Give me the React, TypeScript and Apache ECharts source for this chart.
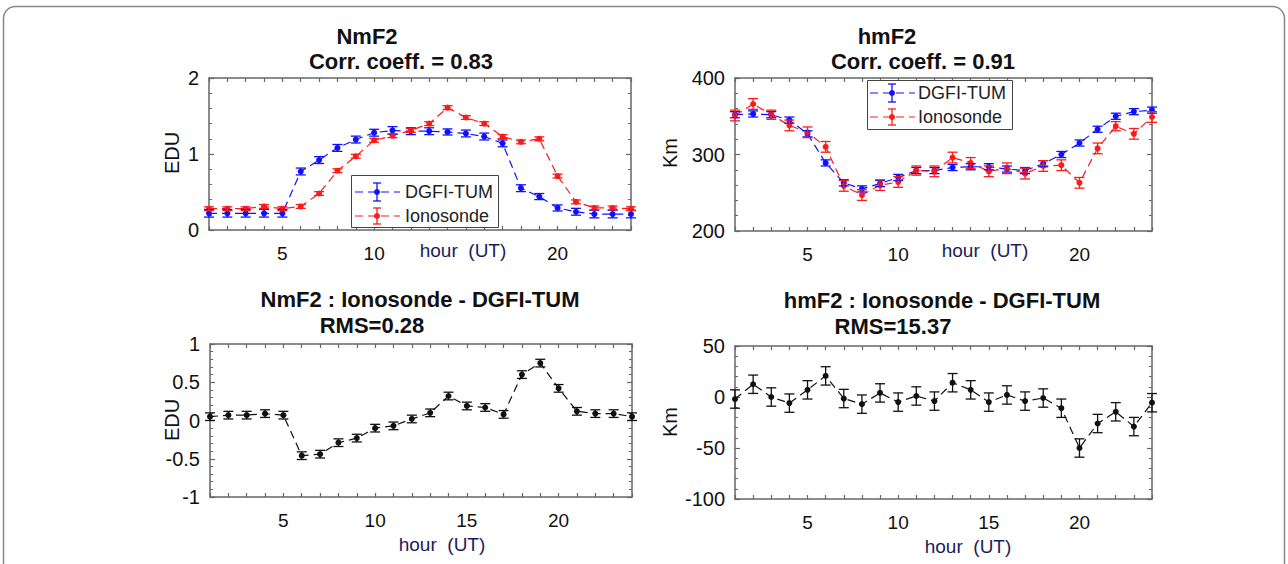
import React, { useEffect, useRef } from "react";
import * as echarts from "echarts";

const hours = [1, 2, 3, 4, 5, 6, 7, 8, 9, 10, 11, 12, 13, 14, 15, 16, 17, 18, 19, 20, 21, 22, 23, 24];

const nmDgfi = [0.22, 0.22, 0.22, 0.22, 0.22, 0.77, 0.92, 1.08, 1.19, 1.28, 1.31, 1.3, 1.3, 1.29, 1.27, 1.23, 1.14, 0.55, 0.44, 0.29, 0.24, 0.21, 0.21, 0.21];
const nmDgfiErr = [0.05, 0.05, 0.05, 0.05, 0.05, 0.045, 0.045, 0.045, 0.045, 0.045, 0.05, 0.045, 0.045, 0.04, 0.045, 0.045, 0.045, 0.045, 0.04, 0.04, 0.045, 0.05, 0.05, 0.05];
const nmIono = [0.28, 0.28, 0.28, 0.31, 0.28, 0.31, 0.48, 0.78, 0.97, 1.18, 1.24, 1.31, 1.4, 1.61, 1.48, 1.4, 1.23, 1.16, 1.2, 0.71, 0.37, 0.29, 0.29, 0.28];
const nmIonoErr = [0.025, 0.025, 0.025, 0.025, 0.025, 0.025, 0.025, 0.025, 0.025, 0.025, 0.025, 0.025, 0.025, 0.025, 0.025, 0.025, 0.025, 0.025, 0.025, 0.025, 0.025, 0.025, 0.025, 0.025];

const hmDgfi = [352, 353, 352, 345, 327, 289, 263, 255, 262, 270, 279, 279, 283, 284, 284, 281, 279, 288, 300, 315, 333, 350, 356, 358];
const hmDgfiErr = [4, 4, 4, 4, 4, 4, 4, 4, 4, 4, 4, 4, 4, 4, 4, 4, 4, 4, 4, 4, 4, 4, 4, 4];
const hmIono = [351, 366, 352, 338, 329, 310, 259, 247, 260, 264, 279, 278, 296, 289, 278, 282, 275, 285, 286, 263, 308, 337, 327, 349];
const hmIonoErr = [7, 7, 6, 7, 7, 7, 7, 7, 7, 7, 6, 7, 7, 7, 7, 7, 7, 7, 7, 7, 7, 6, 7, 7];

const nmDiff = [0.05, 0.07, 0.07, 0.09, 0.07, -0.46, -0.44, -0.29, -0.23, -0.1, -0.07, 0.02, 0.1, 0.32, 0.19, 0.17, 0.08, 0.6, 0.75, 0.42, 0.12, 0.09, 0.09, 0.05];
const nmDiffErr = [0.05, 0.05, 0.05, 0.05, 0.05, 0.05, 0.05, 0.05, 0.05, 0.05, 0.05, 0.05, 0.05, 0.05, 0.05, 0.05, 0.05, 0.05, 0.05, 0.05, 0.05, 0.05, 0.05, 0.05];
const hmDiff = [-2, 12.5, 0, -6, 7, 20.7, -1.5, -7, 4, -5, 1, -4, 14, 7, -5, 2, -4, -1, -11, -50, -26, -14.5, -29, -5.6];
const hmDiffErr = [9, 9, 9, 9, 9, 9, 9, 9, 9, 9, 9, 9, 9, 9, 9, 9, 9, 9, 9, 9, 9, 9, 9, 9];

const FONT = "'Liberation Sans', Arial, Helvetica, sans-serif";
const BLUE = "#1010ff";
const RED = "#ff1a1a";
const BLACK = "#111111";
const AXIS = "#666666";
const NAVY = "#1c1c5a";

function pts(v: number[]) {
  return hours.map((h, i) => [h, v[i]]);
}
function errs(v: number[], e: number[]) {
  return hours.map((h, i) => [h, v[i] - e[i], v[i] + e[i]]);
}

function errRender(color: string, capW: number) {
  return (params: any, api: any) => {
    const x = api.value(0);
    const p1 = api.coord([x, api.value(1)]);
    const p2 = api.coord([x, api.value(2)]);
    const style = { stroke: color, lineWidth: 1.3 };
    return {
      type: "group",
      children: [
        { type: "line", shape: { x1: p1[0], y1: p1[1], x2: p2[0], y2: p2[1] }, style },
        { type: "line", shape: { x1: p1[0] - capW, y1: p1[1], x2: p1[0] + capW, y2: p1[1] }, style },
        { type: "line", shape: { x1: p2[0] - capW, y1: p2[1], x2: p2[0] + capW, y2: p2[1] }, style },
      ],
    };
  };
}

function xAxes(gi: number, labels: number[]) {
  const base = {
    type: "value",
    gridIndex: gi,
    min: 1,
    max: 24,
    interval: 1,
    splitLine: { show: false },
    axisLine: { show: true, onZero: false, lineStyle: { color: AXIS, width: 1.5 } },
    axisTick: { show: true, inside: true, length: 4, lineStyle: { color: AXIS, width: 1.2 } },
  };
  return [
    {
      ...base,
      position: "bottom",
      axisLabel: {
        show: true,
        interval: 0,
        margin: 14,
        color: "#111",
        fontSize: 19,
        fontFamily: FONT,
        showMinLabel: true,
        showMaxLabel: true,
        formatter: (v: number) => (labels.indexOf(v) >= 0 ? String(v) : ""),
      },
    },
    { ...base, position: "top", axisLabel: { show: false } },
  ];
}

function yAxes(gi: number, min: number, max: number, interval: number) {
  const base = {
    type: "value",
    gridIndex: gi,
    min,
    max,
    interval,
    splitLine: { show: false },
    axisLine: { show: true, onZero: false, lineStyle: { color: AXIS, width: 1.5 } },
    axisTick: { show: true, inside: true, length: 5, lineStyle: { color: AXIS, width: 1.2 } },
    minorTick: { show: true, splitNumber: 5, length: 3, lineStyle: { color: AXIS, width: 1 } },
    minorSplitLine: { show: false },
  };
  return [
    {
      ...base,
      position: "left",
      axisLabel: { show: true, margin: 10, color: "#111", fontSize: 20, fontFamily: FONT },
    },
    { ...base, position: "right", axisLabel: { show: false } },
  ];
}

function lineSeries(gi: number, data: number[][], color: string, size: number) {
  return {
    type: "line",
    xAxisIndex: gi * 2,
    yAxisIndex: gi * 2,
    data,
    symbol: "circle",
    symbolSize: size,
    itemStyle: { color },
    lineStyle: { color, width: 1.2, type: [8, 5] },
    z: 3,
  };
}

function errSeries(gi: number, data: number[][], color: string, capW: number) {
  return {
    type: "custom",
    xAxisIndex: gi * 2,
    yAxisIndex: gi * 2,
    data,
    encode: { x: 0, y: [1, 2] },
    renderItem: errRender(color, capW),
    z: 4,
  };
}

function txt(text: string, x: number, y: number, size: number, bold: boolean, color = "#111", rotation = 0) {
  return {
    type: "text",
    x,
    y,
    rotation,
    style: {
      text,
      fill: color,
      font: `${bold ? "bold " : ""}${size}px ${FONT}`,
      align: "center",
      verticalAlign: "middle",
    },
    z: 10,
  };
}

function legendEntry(x1: number, x2: number, cx: number, y: number, color: string, label: string, tx: number, half: number) {
  const st = { stroke: color, lineWidth: 1.3 };
  return [
    { type: "line", shape: { x1, y1: y, x2, y2: y }, style: { stroke: color, lineWidth: 1.2, lineDash: [8, 5] }, z: 11 },
    { type: "line", shape: { x1: cx, y1: y - half, x2: cx, y2: y + half }, style: st, z: 11 },
    { type: "line", shape: { x1: cx - 4, y1: y - half, x2: cx + 4, y2: y - half }, style: st, z: 11 },
    { type: "line", shape: { x1: cx - 4, y1: y + half, x2: cx + 4, y2: y + half }, style: st, z: 11 },
    { type: "circle", shape: { cx, cy: y, r: 3 }, style: { fill: color }, z: 11 },
    {
      type: "text",
      x: tx,
      y,
      style: { text: label, fill: "#222", font: `18px ${FONT}`, align: "left", verticalAlign: "middle" },
      z: 11,
    },
  ];
}

export default function App() {
  const ref = useRef<HTMLDivElement>(null);
  useEffect(() => {
    if (!ref.current) return;
    const chart = echarts.init(ref.current, null, { renderer: "svg" });
    const option: any = {
      animation: false,
      backgroundColor: "#ffffff",
      grid: [
        { left: 209, top: 78, width: 422, height: 152 },
        { left: 735, top: 78, width: 417, height: 153 },
        { left: 210, top: 344, width: 422, height: 153 },
        { left: 735, top: 346, width: 417, height: 153 },
      ],
      xAxis: [
        ...xAxes(0, [5, 10, 20]),
        ...xAxes(1, [5, 10, 20]),
        ...xAxes(2, [5, 10, 15, 20]),
        ...xAxes(3, [5, 10, 15, 20]),
      ],
      yAxis: [
        ...yAxes(0, 0, 2, 1),
        ...yAxes(1, 200, 400, 100),
        ...yAxes(2, -1, 1, 0.5),
        ...yAxes(3, -100, 50, 50),
      ],
      series: [
        lineSeries(0, pts(nmDgfi), BLUE, 6),
        errSeries(0, errs(nmDgfi, nmDgfiErr), BLUE, 5),
        lineSeries(0, pts(nmIono), RED, 6),
        errSeries(0, errs(nmIono, nmIonoErr), RED, 5),
        lineSeries(1, pts(hmDgfi), BLUE, 6),
        errSeries(1, errs(hmDgfi, hmDgfiErr), BLUE, 5),
        lineSeries(1, pts(hmIono), RED, 6),
        errSeries(1, errs(hmIono, hmIonoErr), RED, 5),
        lineSeries(2, pts(nmDiff), BLACK, 6),
        errSeries(2, errs(nmDiff, nmDiffErr), BLACK, 5),
        lineSeries(3, pts(hmDiff), BLACK, 6),
        errSeries(3, errs(hmDiff, hmDiffErr), BLACK, 5),
      ],
      graphic: [
        {
          type: "rect",
          shape: { x: 3.5, y: 6.5, width: 1281, height: 620, r: 12 },
          style: { fill: "none", stroke: "#888", lineWidth: 1.5 },
          z: 0,
        },
        txt("NmF2", 367, 36, 22, true),
        txt("Corr. coeff. = 0.83", 401, 61, 22, true),
        txt("hmF2", 887, 36, 22, true),
        txt("Corr. coeff. = 0.91", 923, 61, 22, true),
        txt("NmF2 : Ionosonde - DGFI-TUM", 420, 299, 22, true),
        txt("RMS=0.28", 372, 325, 22, true),
        txt("hmF2 : Ionosonde - DGFI-TUM", 942, 300, 22, true),
        txt("RMS=15.37", 893, 326, 22, true),
        txt("EDU", 172, 153, 20, false, "#111", Math.PI / 2),
        txt("Km", 670, 153, 20, false, "#111", Math.PI / 2),
        txt("EDU", 172, 420, 20, false, "#111", Math.PI / 2),
        txt("Km", 670, 422, 20, false, "#111", Math.PI / 2),
        txt("hour  (UT)", 463, 250, 19, false, NAVY),
        txt("hour  (UT)", 985, 250, 19, false, NAVY),
        txt("hour  (UT)", 442, 544, 19, false, NAVY),
        txt("hour  (UT)", 968, 546, 19, false, NAVY),
        {
          type: "rect",
          shape: { x: 351.5, y: 175.5, width: 147, height: 52 },
          style: { fill: "#fff", stroke: "#444", lineWidth: 1 },
          z: 10,
        },
        ...legendEntry(355, 400, 377, 192, BLUE, "DGFI-TUM", 405, 9),
        ...legendEntry(355, 400, 377, 216, RED, "Ionosonde", 405, 8),
        {
          type: "rect",
          shape: { x: 867.5, y: 80.5, width: 145, height: 49 },
          style: { fill: "#fff", stroke: "#444", lineWidth: 1 },
          z: 10,
        },
        ...legendEntry(870, 915, 892, 93, BLUE, "DGFI-TUM", 918, 9),
        ...legendEntry(870, 915, 892, 117, RED, "Ionosonde", 918, 8),
      ],
    };
    chart.setOption(option);
    return () => chart.dispose();
  }, []);
  return (
    <div
      ref={ref}
      style={{ position: "absolute", left: 0, top: 0, width: 1288, height: 564, background: "#fff" }}
    />
  );
}
